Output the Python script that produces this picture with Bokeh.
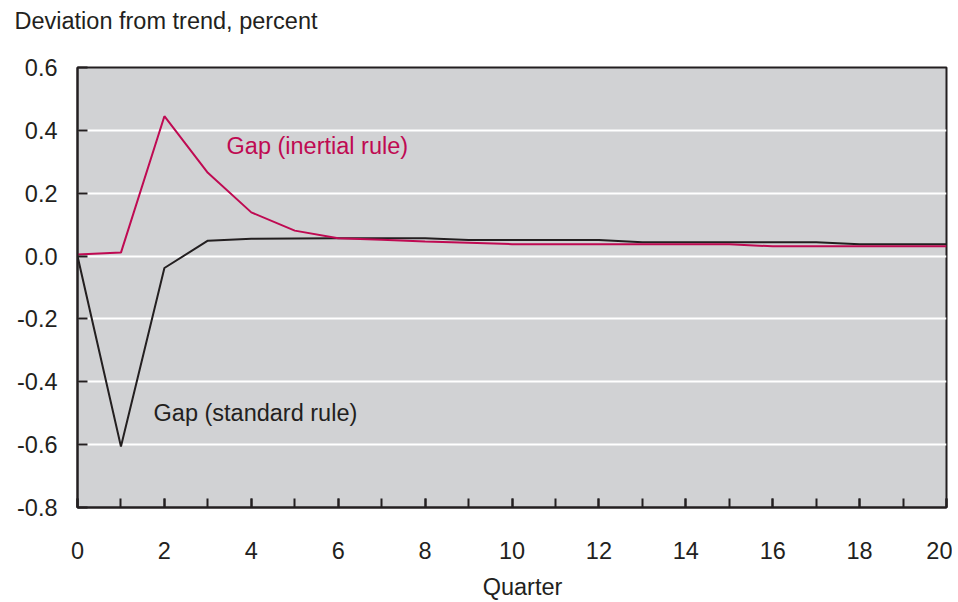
from bokeh.plotting import figure
from bokeh.layouts import column
from bokeh.models import Range1d, FixedTicker, Label, CustomJSTickFormatter
from bokeh.embed import file_html
from bokeh.resources import INLINE

quarters = list(range(21))
gap_inertial = [0.005, 0.011, 0.445, 0.265, 0.139, 0.081, 0.057, 0.052, 0.046, 0.042,
                0.038, 0.038, 0.038, 0.038, 0.038, 0.038, 0.031, 0.031, 0.031, 0.031, 0.031]
gap_standard = [0.0, -0.606, -0.038, 0.049, 0.055, 0.056, 0.057, 0.057, 0.057, 0.051,
                0.051, 0.051, 0.051, 0.044, 0.044, 0.044, 0.044, 0.044, 0.038, 0.038, 0.038]
x_ticks = list(range(0, 21, 2))
y_ticks = [-0.8, -0.6, -0.4, -0.2, 0.0, 0.2, 0.4, 0.6]
title_text = "Deviation from trend, percent"
x_label_text = "Quarter"

FONT = "Liberation Sans"
FS = "23.5px"
RED = "#bf0a52"
DARK = "#231f20"


def strip(height):
    s = figure(width=952, height=height, output_backend="svg", toolbar_location=None,
               x_range=Range1d(0, 952), y_range=Range1d(0, height),
               x_axis_location=None, y_axis_location=None, min_border=0)
    s.frame_align = False
    s.grid.visible = False
    s.outline_line_color = None
    s.background_fill_color = "white"
    return s


# title strip
t = strip(40)
t.add_layout(Label(x=14, y=20, text=title_text, text_font=FONT, text_font_size=FS,
                   text_color=DARK, text_baseline="middle"))

p = figure(width=952, height=532, output_backend="svg", toolbar_location=None,
           x_range=Range1d(0, 20), y_range=Range1d(-0.8, 0.6),
           min_border_left=77, min_border_right=6, min_border_top=27, min_border_bottom=65)
p.frame_align = False
p.background_fill_color = "#d1d2d4"
p.border_fill_color = "white"
p.outline_line_color = DARK
p.outline_line_width = 2

p.xgrid.visible = False
p.ygrid.grid_line_color = "white"
p.ygrid.grid_line_width = 2
p.ygrid.ticker = FixedTicker(ticks=y_ticks)

xa = p.xaxis[0]
xa.ticker = FixedTicker(ticks=x_ticks, minor_ticks=quarters)
xa.major_tick_in = 9
xa.major_tick_out = 0
xa.minor_tick_in = 9
xa.minor_tick_out = 0
xa.axis_line_width = 2
xa.axis_line_color = DARK
xa.major_tick_line_width = 2
xa.minor_tick_line_width = 2
xa.major_tick_line_color = DARK
xa.minor_tick_line_color = DARK
xa.major_label_text_font = FONT
xa.major_label_text_font_size = FS
xa.major_label_text_color = DARK
xa.major_label_standoff = 34

ya = p.yaxis[0]
ya.ticker = FixedTicker(ticks=y_ticks)
ya.formatter = CustomJSTickFormatter(code="return tick.toFixed(1);")
ya.major_tick_in = 10
ya.major_tick_out = 0
ya.minor_tick_in = 0
ya.minor_tick_out = 0
ya.axis_line_width = 2
ya.axis_line_color = DARK
ya.major_tick_line_width = 2
ya.major_tick_line_color = DARK
ya.major_label_text_font = FONT
ya.major_label_text_font_size = FS
ya.major_label_text_color = DARK
ya.major_label_standoff = 20

p.line(quarters, gap_standard, line_color=DARK, line_width=2)
p.line(quarters, gap_inertial, line_color=RED, line_width=2)

p.add_layout(Label(x=3.43, y=0.35, text="Gap (inertial rule)", text_font=FONT,
                   text_font_size=FS, text_color=RED, text_baseline="middle"))
p.add_layout(Label(x=1.75, y=-0.50, text="Gap (standard rule)", text_font=FONT,
                   text_font_size=FS, text_color=DARK, text_baseline="middle"))

# x-axis title strip
q = strip(28)
q.add_layout(Label(x=522, y=14, text=x_label_text, text_font=FONT, text_font_size=FS,
                   text_color=DARK, text_baseline="middle", text_align="center"))

layout = column(t, p, q, spacing=0)
open("out.html", "w").write(file_html(layout, INLINE))
